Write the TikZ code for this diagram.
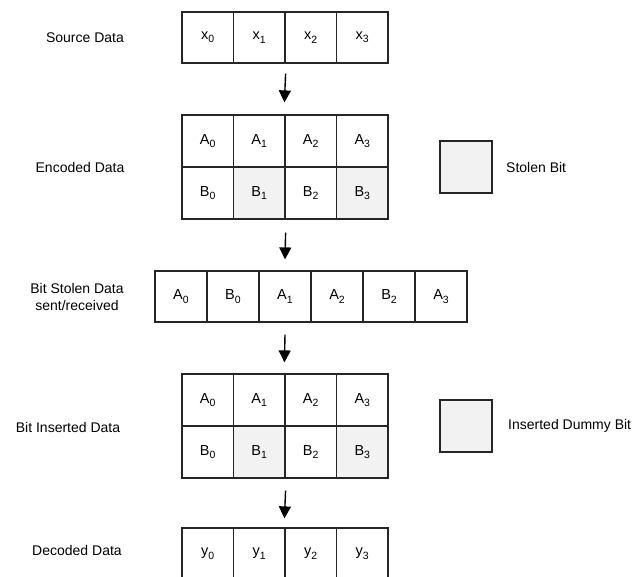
\documentclass[tikz,border=0pt]{standalone}
\usepackage{fontspec}
\setmainfont{Liberation Sans}
\usetikzlibrary{arrows.meta}
\newcommand\sbx[1]{\raisebox{-0.45ex}{\fontsize{10.5}{10.5}\selectfont #1}}
\begin{document}
\begin{tikzpicture}[x=1pt,y=-1pt,
  cell/.style={draw=black!85, line width=1.2pt, minimum width=51.5pt, minimum height=51pt, inner sep=0pt, font=\fontsize{14.5}{16}\selectfont},
  cellw/.style={cell, minimum width=52pt},
  cellh/.style={cell, minimum height=52pt},
  shade/.style={fill=black!5},
  lbl/.style={font=\fontsize{14}{17}\selectfont, align=center, inner sep=0pt},
  arr/.style={draw=black, line width=1.4pt, -{Triangle[width=12pt,length=12pt]}}]
\useasboundingbox (0,0) rectangle (636,577);
\clip (0,0) rectangle (636,577);
% Source data
\node[lbl] (lsrc) at (85,38) {Source Data};
\node[cell] (s0) at (207.75,37.5) {x\sbx{0}};
\node[cell] (s1) at (259.25,37.5) {x\sbx{1}};
\node[cell] (s2) at (310.75,37.5) {x\sbx{2}};
\node[cell] (s3) at (362.25,37.5) {x\sbx{3}};
% Encoded data
\node[lbl] (lenc) at (80,167) {Encoded Data};
\node[cellh] (a0) at (207.75,141) {A\sbx{0}};
\node[cellh] (a1) at (259.25,141) {A\sbx{1}};
\node[cellh] (a2) at (310.75,141) {A\sbx{2}};
\node[cellh] (a3) at (362.25,141) {A\sbx{3}};
\node[cellh] (b0) at (207.75,193) {B\sbx{0}};
\node[cellh,shade] (b1) at (259.25,193) {B\sbx{1}};
\node[cellh] (b2) at (310.75,193) {B\sbx{2}};
\node[cellh,shade] (b3) at (362.25,193) {B\sbx{3}};
\node[cellh,shade,minimum width=52pt] (leg1) at (466,167) {};
\node[lbl,anchor=west] (leg1t) at (506,167) {Stolen Bit};
% Bit stolen data
\node[lbl] (lst) at (77,297) {Bit Stolen Data\\sent/received};
\node[cellw] (t0) at (181,296.5) {A\sbx{0}};
\node[cellw] (t1) at (233,296.5) {B\sbx{0}};
\node[cellw] (t2) at (285,296.5) {A\sbx{1}};
\node[cellw] (t3) at (337,296.5) {A\sbx{2}};
\node[cellw] (t4) at (389,296.5) {B\sbx{2}};
\node[cellw] (t5) at (441,296.5) {A\sbx{3}};
% Bit inserted data
\node[lbl] (lins) at (68,427) {Bit Inserted Data};
\node[cellh] (ia0) at (207.75,400) {A\sbx{0}};
\node[cellh] (ia1) at (259.25,400) {A\sbx{1}};
\node[cellh] (ia2) at (310.75,400) {A\sbx{2}};
\node[cellh] (ia3) at (362.25,400) {A\sbx{3}};
\node[cellh] (ib0) at (207.75,452) {B\sbx{0}};
\node[cellh,shade] (ib1) at (259.25,452) {B\sbx{1}};
\node[cellh] (ib2) at (310.75,452) {B\sbx{2}};
\node[cellh,shade] (ib3) at (362.25,452) {B\sbx{3}};
\node[cellh,shade,minimum width=52pt] (leg2) at (466,426) {};
\node[lbl,anchor=west] (leg2t) at (508,426) {Inserted Dummy Bit};
% Decoded data
\node[lbl] (ldec) at (77,550) {Decoded Data};
\node[cell] (d0) at (207.75,553.5) {y\sbx{0}};
\node[cell] (d1) at (259.25,553.5) {y\sbx{1}};
\node[cell] (d2) at (310.75,553.5) {y\sbx{2}};
\node[cell] (d3) at (362.25,553.5) {y\sbx{3}};
% Arrows
\draw[arr] ([yshift=-10pt]s1.south east) -- ([yshift=12pt]a2.north west);
\draw[arr] ([yshift=-13pt]b1.south east) -- ([yshift=11pt]t2.north);
\draw[arr] ([yshift=-12pt]t2.south) -- ([yshift=11pt]ia2.north west);
\draw[arr] ([yshift=-12pt]ib1.south east) -- ([yshift=9pt]d2.north west);
\end{tikzpicture}
\end{document}
